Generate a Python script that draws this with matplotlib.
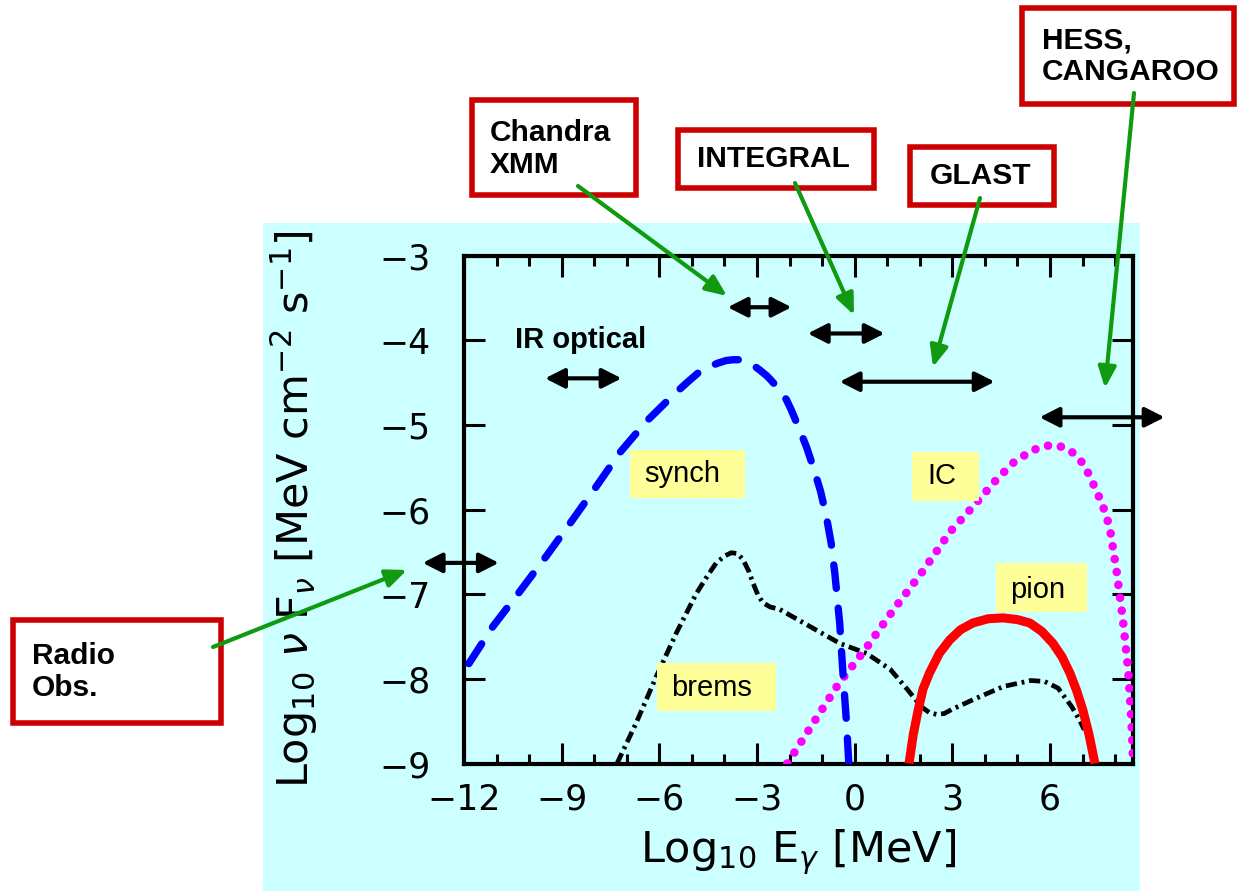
import matplotlib
matplotlib.use('Agg')
import matplotlib.pyplot as plt
import matplotlib.transforms as mtransforms
from matplotlib.patches import Rectangle, FancyArrowPatch
from matplotlib.ticker import MultipleLocator

# --- spectral components (log10 E [MeV], log10 nuFnu) ---
synch_x = [-11.85, -11.11, -10.29, -9.47, -8.70, -7.94, -7.22, -6.40, -5.58, -5.15,
           -4.76, -4.45, -4.20, -3.95, -3.74, -3.50, -3.30, -3.10, -2.92, -2.70,
           -2.55, -2.30, -2.10, -1.95, -1.69, -1.48, -1.28, -1.05, -0.87, -0.72,
           -0.61, -0.46, -0.36, -0.25, -0.18]
synch_y = [-7.82, -7.38, -6.97, -6.55, -6.14, -5.73, -5.33, -4.96, -4.65, -4.50,
           -4.37, -4.31, -4.27, -4.24, -4.23, -4.23, -4.26, -4.30, -4.35, -4.42,
           -4.48, -4.59, -4.70, -4.82, -5.06, -5.26, -5.49, -5.78, -6.08, -6.40,
           -6.75, -7.34, -7.93, -8.52, -9.00]

brems_x = [-7.30, -6.71, -6.09, -5.48, -4.86, -4.50, -4.25, -4.00, -3.79, -3.60,
           -3.43, -3.25, -3.12, -2.97, -2.82, -2.60, -2.30, -1.38, -0.46, 0.37,
           1.10, 1.63, 2.05, 2.30, 2.52, 2.75, 2.99, 3.73, 4.57, 5.41,
           5.83, 6.25, 6.67, 6.91, 7.05]
brems_y = [-9.00, -8.52, -7.97, -7.46, -6.99, -6.77, -6.63, -6.55, -6.51, -6.52,
           -6.59, -6.73, -6.87, -7.01, -7.10, -7.15, -7.18, -7.38, -7.58, -7.70,
           -7.89, -8.13, -8.33, -8.40, -8.42, -8.41, -8.36, -8.23, -8.09, -8.02,
           -8.03, -8.11, -8.33, -8.49, -8.60]

ic_x = [-2.07, -0.48, 0.31, 1.20, 2.05, 2.94, 3.74, 4.30, 4.86, 5.45,
        5.99, 6.40, 6.71, 7.05, 7.32, 7.60, 7.83, 8.04, 8.24, 8.40,
        8.50, 8.55]
ic_y = [-9.00, -8.05, -7.66, -7.18, -6.75, -6.26, -5.92, -5.67, -5.45, -5.30,
        -5.24, -5.26, -5.33, -5.47, -5.69, -5.93, -6.20, -6.71, -7.30, -7.89,
        -8.48, -8.95]

pion_x = [1.67, 1.80, 1.95, 2.10, 2.30, 2.60, 2.92, 3.25, 3.63, 4.10,
          4.56, 5.00, 5.38, 5.75, 6.09, 6.37, 6.61, 6.82, 7.01, 7.20, 7.38]
pion_y = [-9.00, -8.66, -8.37, -8.12, -7.93, -7.70, -7.54, -7.42, -7.34, -7.29,
          -7.28, -7.30, -7.34, -7.44, -7.58, -7.74, -7.93, -8.14, -8.37, -8.66, -9.00]

# instrument energy bands (double arrows)
band_lo = [-13.27, -9.51, -3.90, -1.44, -0.46, 5.68]
band_hi = [-10.93, -7.16, -1.94, 0.92, 4.30, 9.52]
band_y = [-6.63, -4.45, -3.61, -3.92, -4.49, -4.91]

W, H = 1240, 891
fig = plt.figure(figsize=(W / 100, H / 100), dpi=100)
# pixel coordinates of the figure, y going down
px = mtransforms.Affine2D().scale(1 / W, -1 / H).translate(0, 1) + fig.transFigure

fig.add_artist(Rectangle((263, 223), 877, 668, transform=px, facecolor='#ccffff',
                         edgecolor='none', zorder=-5))

ax = fig.add_axes([464 / W, 1 - 763.5 / H, 669 / W, 507.9 / H])
ax.patch.set_visible(False)

ax.plot(brems_x, brems_y, color='black', lw=3.4, ls=(0, (2.4, 1.0, 0.6, 1.0)), zorder=2)
ax.plot(ic_x, ic_y, color='#ff00ff', lw=6.2, ls=(0, (0.01, 1.5)),
        dash_capstyle='round', zorder=3)
ax.plot(synch_x, synch_y, color='#0000ff', lw=5.3, ls=(0, (3.2, 2.7)),
        dash_capstyle='round', zorder=4)
ax.plot(pion_x, pion_y, color='#ff0000', lw=6.5, solid_capstyle='butt',
        solid_joinstyle='round', zorder=5)

for lo, hi, y in zip(band_lo, band_hi, band_y):
    ax.annotate('', xy=(hi, y), xytext=(lo, y), annotation_clip=False,
                arrowprops=dict(arrowstyle='<|-|>,head_length=0.65,head_width=0.33',
                                mutation_scale=18, lw=3, color='black',
                                shrinkA=0, shrinkB=0))

ax.set_xlim(-12, 8.55)
ax.set_ylim(-9, -3)
ax.xaxis.set_major_locator(MultipleLocator(3))
ax.xaxis.set_minor_locator(MultipleLocator(1))
ax.yaxis.set_major_locator(MultipleLocator(1))
ax.tick_params(which='both', direction='in', top=True, right=True, width=2.2)
ax.tick_params(which='major', length=15, labelsize=25)
ax.tick_params(which='minor', length=7.5)
ax.tick_params(axis='y', pad=24)
ax.tick_params(axis='x', pad=14)
for s in ax.spines.values():
    s.set_linewidth(3)

ax.set_xlabel(r'Log$_{10}$ E$_\gamma$ [MeV]', fontsize=31)
ax.set_ylabel(r'Log$_{10}$ $\nu$ F$_\nu$ [MeV cm$^{-2}$ s$^{-1}$]', fontsize=31)
ax.xaxis.set_label_coords(0.5, -0.125)
ax.yaxis.set_label_coords(-0.215, 0.5)

fig.text(515, 340, 'IR optical', transform=px, fontsize=21, fontweight='bold',
         family='Liberation Sans', ha='left', va='center')

# yellow component labels (pixel boxes)
for name, (x0, y0, x1, y1), (tx, ty) in [
        ('synch', (630, 450, 745, 498), (682, 474)),
        ('brems', (657, 663, 776, 711), (712, 688)),
        ('IC', (912, 452, 979, 501), (942, 476)),
        ('pion', (996, 563, 1087, 612), (1038, 590))]:
    fig.add_artist(Rectangle((x0, y0), x1 - x0, y1 - y0, transform=px,
                             facecolor='#ffff99', edgecolor='none', zorder=6))
    fig.text(tx, ty, name, transform=px, fontsize=21, family='Liberation Sans',
             ha='center', va='center', zorder=7)

# instrument boxes with green pointers
red = '#cc0000'
green = '#109a10'
for label, (x0, y0, x1, y1), (tx, ty, ha), tail, head in [
        ('Chandra\nXMM', (472, 100, 636, 195), (490, 149, 'left'), (578, 186), (727, 296)),
        ('INTEGRAL', (678, 130, 874, 188), (773, 159, 'center'), (795, 183), (854, 315)),
        ('GLAST', (910, 147, 1054, 205), (981, 176, 'center'), (980, 198), (933, 367)),
        ('HESS,\nCANGAROO', (1022, 8, 1234, 104), (1042, 56, 'left'), (1134, 93), (1105, 388)),
        ('Radio\nObs.', (13, 620, 221, 723), (32, 672, 'left'), (213, 647), (407, 570))]:
    fig.add_artist(Rectangle((x0, y0), x1 - x0, y1 - y0, transform=px,
                             facecolor='white', edgecolor=red, lw=4, zorder=6))
    fig.text(tx, ty, label, transform=px, fontsize=21.5, fontweight='bold',
             family='Liberation Sans', ha=ha, va='center', linespacing=1.15, zorder=7)
    fig.add_artist(FancyArrowPatch(tail, head, transform=px,
                                   arrowstyle='-|>,head_length=0.7,head_width=0.3',
                                   mutation_scale=18, lw=3, color=green,
                                   shrinkA=0, shrinkB=0, zorder=8))

fig.savefig('out.png', dpi=100, facecolor='white')
